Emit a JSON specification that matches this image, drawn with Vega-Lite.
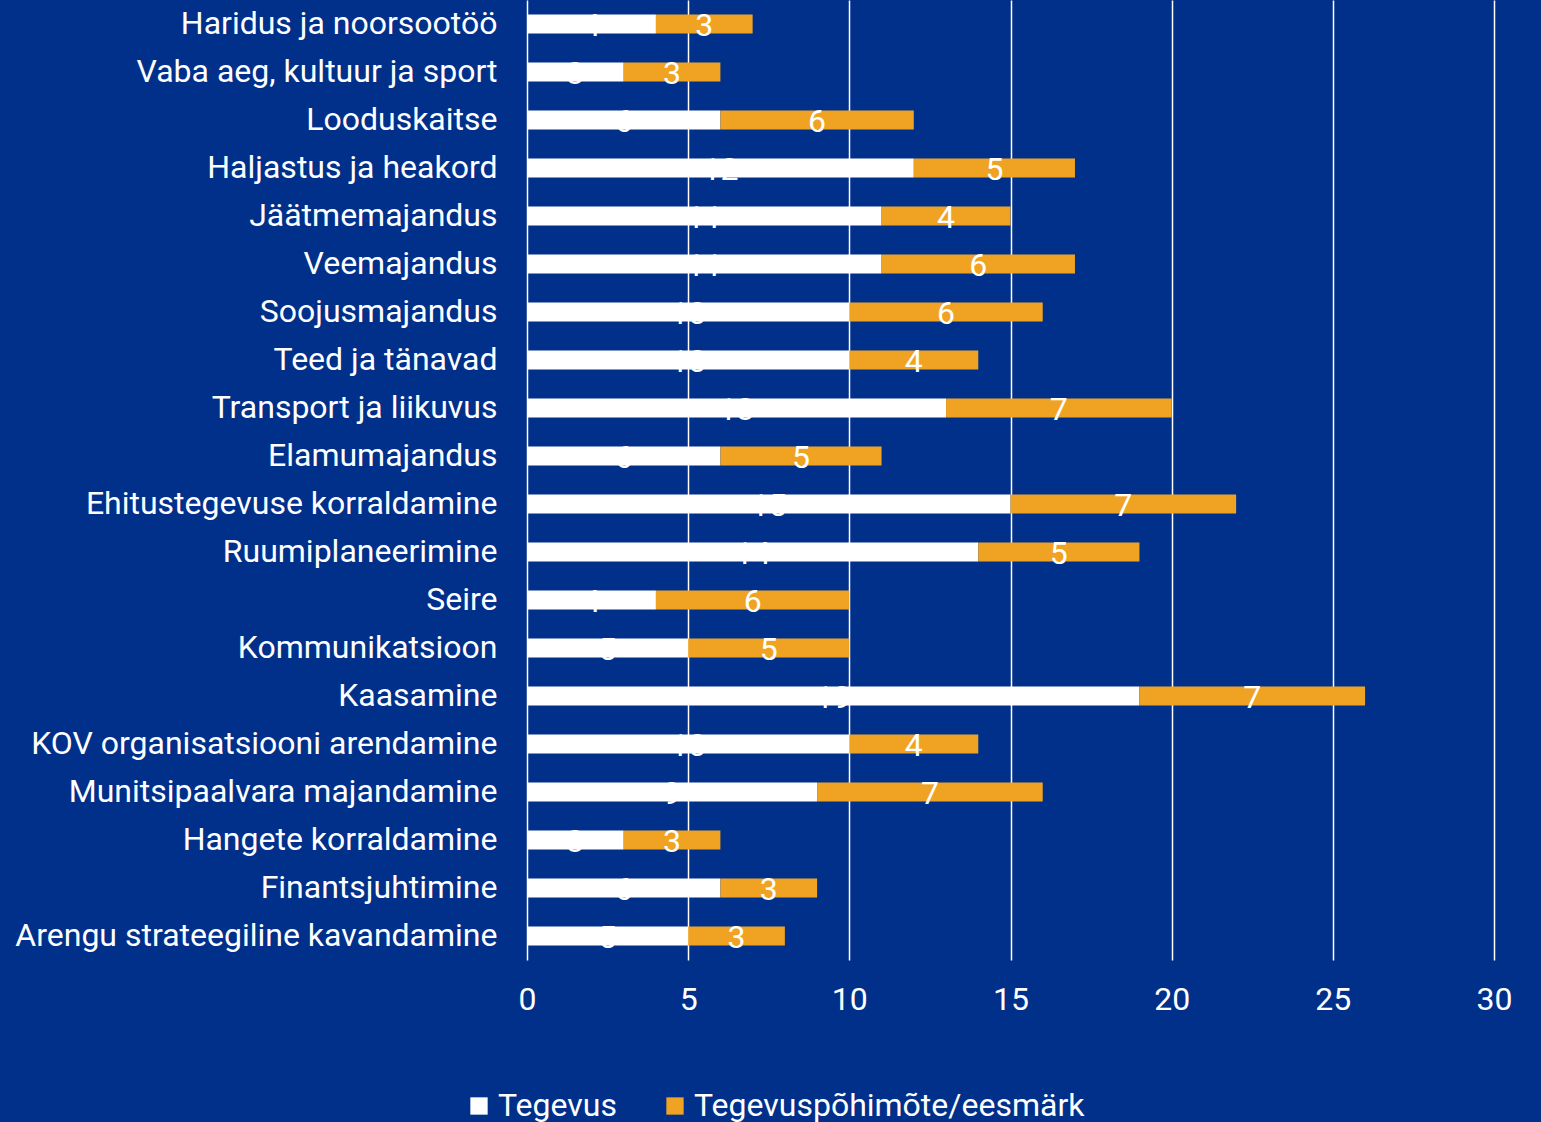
{
  "$schema": "https://vega.github.io/schema/vega-lite/v6.json",
  "width": 967,
  "height": 960,
  "autosize": {"type": "none"},
  "padding": {"left": 527, "top": 0, "right": 47, "bottom": 162},
  "background": "#00308A",
  "config": {
    "view": {"stroke": null},
    "font": "Roboto"
  },
  "data": {
    "values": [
      {"cat": "Haridus ja noorsootöö", "series": "Tegevus", "o": 1, "v": 4},
      {"cat": "Haridus ja noorsootöö", "series": "Tegevuspõhimõte/eesmärk", "o": 2, "v": 3},
      {"cat": "Vaba aeg, kultuur ja sport", "series": "Tegevus", "o": 1, "v": 3},
      {"cat": "Vaba aeg, kultuur ja sport", "series": "Tegevuspõhimõte/eesmärk", "o": 2, "v": 3},
      {"cat": "Looduskaitse", "series": "Tegevus", "o": 1, "v": 6},
      {"cat": "Looduskaitse", "series": "Tegevuspõhimõte/eesmärk", "o": 2, "v": 6},
      {"cat": "Haljastus ja heakord", "series": "Tegevus", "o": 1, "v": 12},
      {"cat": "Haljastus ja heakord", "series": "Tegevuspõhimõte/eesmärk", "o": 2, "v": 5},
      {"cat": "Jäätmemajandus", "series": "Tegevus", "o": 1, "v": 11},
      {"cat": "Jäätmemajandus", "series": "Tegevuspõhimõte/eesmärk", "o": 2, "v": 4},
      {"cat": "Veemajandus", "series": "Tegevus", "o": 1, "v": 11},
      {"cat": "Veemajandus", "series": "Tegevuspõhimõte/eesmärk", "o": 2, "v": 6},
      {"cat": "Soojusmajandus", "series": "Tegevus", "o": 1, "v": 10},
      {"cat": "Soojusmajandus", "series": "Tegevuspõhimõte/eesmärk", "o": 2, "v": 6},
      {"cat": "Teed ja tänavad", "series": "Tegevus", "o": 1, "v": 10},
      {"cat": "Teed ja tänavad", "series": "Tegevuspõhimõte/eesmärk", "o": 2, "v": 4},
      {"cat": "Transport ja liikuvus", "series": "Tegevus", "o": 1, "v": 13},
      {"cat": "Transport ja liikuvus", "series": "Tegevuspõhimõte/eesmärk", "o": 2, "v": 7},
      {"cat": "Elamumajandus", "series": "Tegevus", "o": 1, "v": 6},
      {"cat": "Elamumajandus", "series": "Tegevuspõhimõte/eesmärk", "o": 2, "v": 5},
      {"cat": "Ehitustegevuse korraldamine", "series": "Tegevus", "o": 1, "v": 15},
      {"cat": "Ehitustegevuse korraldamine", "series": "Tegevuspõhimõte/eesmärk", "o": 2, "v": 7},
      {"cat": "Ruumiplaneerimine", "series": "Tegevus", "o": 1, "v": 14},
      {"cat": "Ruumiplaneerimine", "series": "Tegevuspõhimõte/eesmärk", "o": 2, "v": 5},
      {"cat": "Seire", "series": "Tegevus", "o": 1, "v": 4},
      {"cat": "Seire", "series": "Tegevuspõhimõte/eesmärk", "o": 2, "v": 6},
      {"cat": "Kommunikatsioon", "series": "Tegevus", "o": 1, "v": 5},
      {"cat": "Kommunikatsioon", "series": "Tegevuspõhimõte/eesmärk", "o": 2, "v": 5},
      {"cat": "Kaasamine", "series": "Tegevus", "o": 1, "v": 19},
      {"cat": "Kaasamine", "series": "Tegevuspõhimõte/eesmärk", "o": 2, "v": 7},
      {"cat": "KOV organisatsiooni arendamine", "series": "Tegevus", "o": 1, "v": 10},
      {"cat": "KOV organisatsiooni arendamine", "series": "Tegevuspõhimõte/eesmärk", "o": 2, "v": 4},
      {"cat": "Munitsipaalvara majandamine", "series": "Tegevus", "o": 1, "v": 9},
      {"cat": "Munitsipaalvara majandamine", "series": "Tegevuspõhimõte/eesmärk", "o": 2, "v": 7},
      {"cat": "Hangete korraldamine", "series": "Tegevus", "o": 1, "v": 3},
      {"cat": "Hangete korraldamine", "series": "Tegevuspõhimõte/eesmärk", "o": 2, "v": 3},
      {"cat": "Finantsjuhtimine", "series": "Tegevus", "o": 1, "v": 6},
      {"cat": "Finantsjuhtimine", "series": "Tegevuspõhimõte/eesmärk", "o": 2, "v": 3},
      {"cat": "Arengu strateegiline kavandamine", "series": "Tegevus", "o": 1, "v": 5},
      {"cat": "Arengu strateegiline kavandamine", "series": "Tegevuspõhimõte/eesmärk", "o": 2, "v": 3}
    ]
  },
  "encoding": {
    "y": {
      "field": "cat",
      "type": "nominal",
      "sort": null,
      "title": null,
      "scale": {"paddingInner": 0.6, "paddingOuter": 0.3},
      "axis": {
        "domain": false,
        "ticks": false,
        "labelPadding": 30,
        "labelFontSize": 32,
        "labelColor": "white",
        "labelFont": "Roboto",
        "labelLimit": 600
      }
    },
    "x": {
      "field": "v",
      "type": "quantitative",
      "stack": "zero",
      "title": null,
      "scale": {"domain": [0, 30]},
      "axis": {
        "values": [0, 5, 10, 15, 20, 25, 30],
        "domain": false,
        "ticks": false,
        "grid": true,
        "gridColor": "white",
        "gridOpacity": 1,
        "gridWidth": 1.5,
        "labelFlush": false,
        "labelPadding": 24,
        "labelFontSize": 32,
        "labelColor": "white",
        "labelFont": "Roboto"
      }
    },
    "order": {"field": "o", "type": "quantitative"}
  },
  "layer": [
    {
      "mark": {"type": "bar"},
      "encoding": {
        "color": {
          "field": "series",
          "type": "nominal",
          "scale": {"domain": ["Tegevus", "Tegevuspõhimõte/eesmärk"], "range": ["#FFFFFF", "#F0A323"]},
          "legend": {
            "title": null,
            "orient": "none",
            "direction": "horizontal",
            "legendX": -64,
            "legendY": 1090,
            "symbolType": "square",
            "symbolSize": 300,
            "symbolStrokeWidth": 0,
            "symbolOpacity": 1,
            "labelFontSize": 32,
            "labelColor": "white",
            "labelFont": "Roboto",
            "columnPadding": 42,
            "labelOffset": 3,
            "labelLimit": 500
          }
        }
      }
    },
    {
      "mark": {"type": "text", "color": "white", "fontSize": 32, "font": "Roboto", "baseline": "middle", "dy": 2},
      "encoding": {
        "x": {"field": "v", "type": "quantitative", "stack": "zero", "bandPosition": 0.5},
        "text": {"field": "v", "type": "quantitative"}
      }
    }
  ]
}
